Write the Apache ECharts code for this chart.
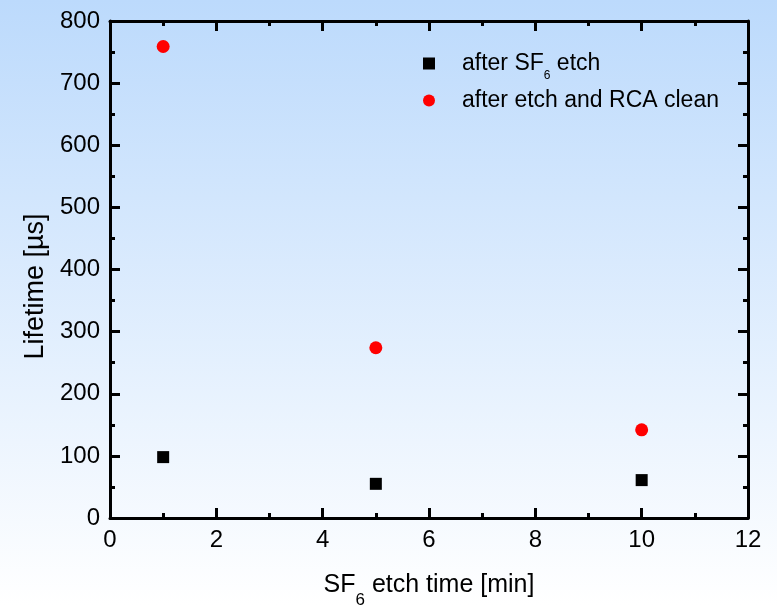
<!DOCTYPE html>
<html><head><meta charset="utf-8">
<script src="https://cdn.jsdelivr.net/npm/echarts@6/dist/echarts.min.js"></script>
<style>html,body{margin:0;padding:0;}#c{width:777px;height:605px;}</style>
</head><body><div id="c"></div>
<script>
const etchTime = [1, 5, 10];
const afterEtch = [98, 55, 61];
const afterRCA = [759, 274, 142];
const xTicks = [0, 2, 4, 6, 8, 10, 12];
const yTicks = [0, 100, 200, 300, 400, 500, 600, 700, 800];

const chart = echarts.init(document.getElementById('c'));
const font = 'Liberation Sans, Arial, sans-serif';
const axisCommon = {
  axisLine: { show: true, onZero: false, lineStyle: { color: '#000', width: 3 } },
  axisTick: { show: true, inside: true, length: 10, lineStyle: { color: '#000', width: 3 } },
  minorTick: { show: true, splitNumber: 2, length: 5, lineStyle: { color: '#000', width: 3 } },
  splitLine: { show: false }
};
const richLeg = {
  n: { fontSize: 23, fontFamily: font, color: '#000' },
  sub: { fontSize: 12, fontFamily: font, color: '#000', padding: [25, 0, 0, 0] }
};
const richAx = {
  n: { fontSize: 25, fontFamily: font, color: '#000' },
  sub: { fontSize: 17, fontFamily: font, color: '#000', padding: [30, 0, 0, 0] }
};
chart.setOption({
  backgroundColor: new echarts.graphic.LinearGradient(0, 0, 0, 1, [
    { offset: 0, color: '#bcdafc' }, { offset: 1, color: '#ffffff' }
  ]),
  animation: false,
  grid: { left: 110, right: 29, top: 21, bottom: 87, containLabel: false, outerBoundsMode: 'none' },
  legend: {
    orient: 'vertical', left: 418, top: 47, itemWidth: 12, itemHeight: 12, itemGap: 7,
    textStyle: { fontSize: 23, fontFamily: font, color: '#000', padding: [0, 0, 0, 22], rich: richLeg },
    formatter: function (n) { return n === 'after SF6 etch' ? '{n|after SF}{sub|6}{n| etch}' : n; }
  },
  xAxis: [
    Object.assign({}, axisCommon, {
      type: 'value', min: xTicks[0], max: xTicks[xTicks.length - 1], interval: 2, position: 'bottom',
      axisLabel: { fontSize: 24, fontFamily: font, color: '#000', margin: 10 },
      name: '{n|SF}{sub|6}{n| etch time [min]}', nameLocation: 'middle', nameGap: 44,
      nameTextStyle: { fontSize: 25, fontFamily: font, color: '#000', rich: richAx }
    }),
    Object.assign({}, axisCommon, {
      type: 'value', min: 0, max: 12, interval: 2, position: 'top', axisLabel: { show: false }
    })
  ],
  yAxis: [
    Object.assign({}, axisCommon, {
      type: 'value', min: yTicks[0], max: yTicks[yTicks.length - 1], interval: 100, position: 'left',
      axisLabel: { fontSize: 24, fontFamily: font, color: '#000', margin: 10 },
      name: 'Lifetime [µs]', nameLocation: 'middle', nameGap: 59, nameRotate: 90,
      nameTextStyle: { fontSize: 27, fontFamily: font, color: '#000', padding: [0, 34, 0, 0] }
    }),
    Object.assign({}, axisCommon, {
      type: 'value', min: 0, max: 800, interval: 100, position: 'right', axisLabel: { show: false }
    })
  ],
  series: [
    { name: 'after SF6 etch', type: 'scatter', symbol: 'rect', symbolSize: 12,
      itemStyle: { color: '#000', opacity: 1 }, data: etchTime.map((x, i) => [x, afterEtch[i]]) },
    { name: 'after etch and RCA clean', type: 'scatter', symbol: 'circle', symbolSize: 13,
      itemStyle: { color: '#ff0000', opacity: 1 }, data: etchTime.map((x, i) => [x, afterRCA[i]]) }
  ]
});
</script></body></html>
